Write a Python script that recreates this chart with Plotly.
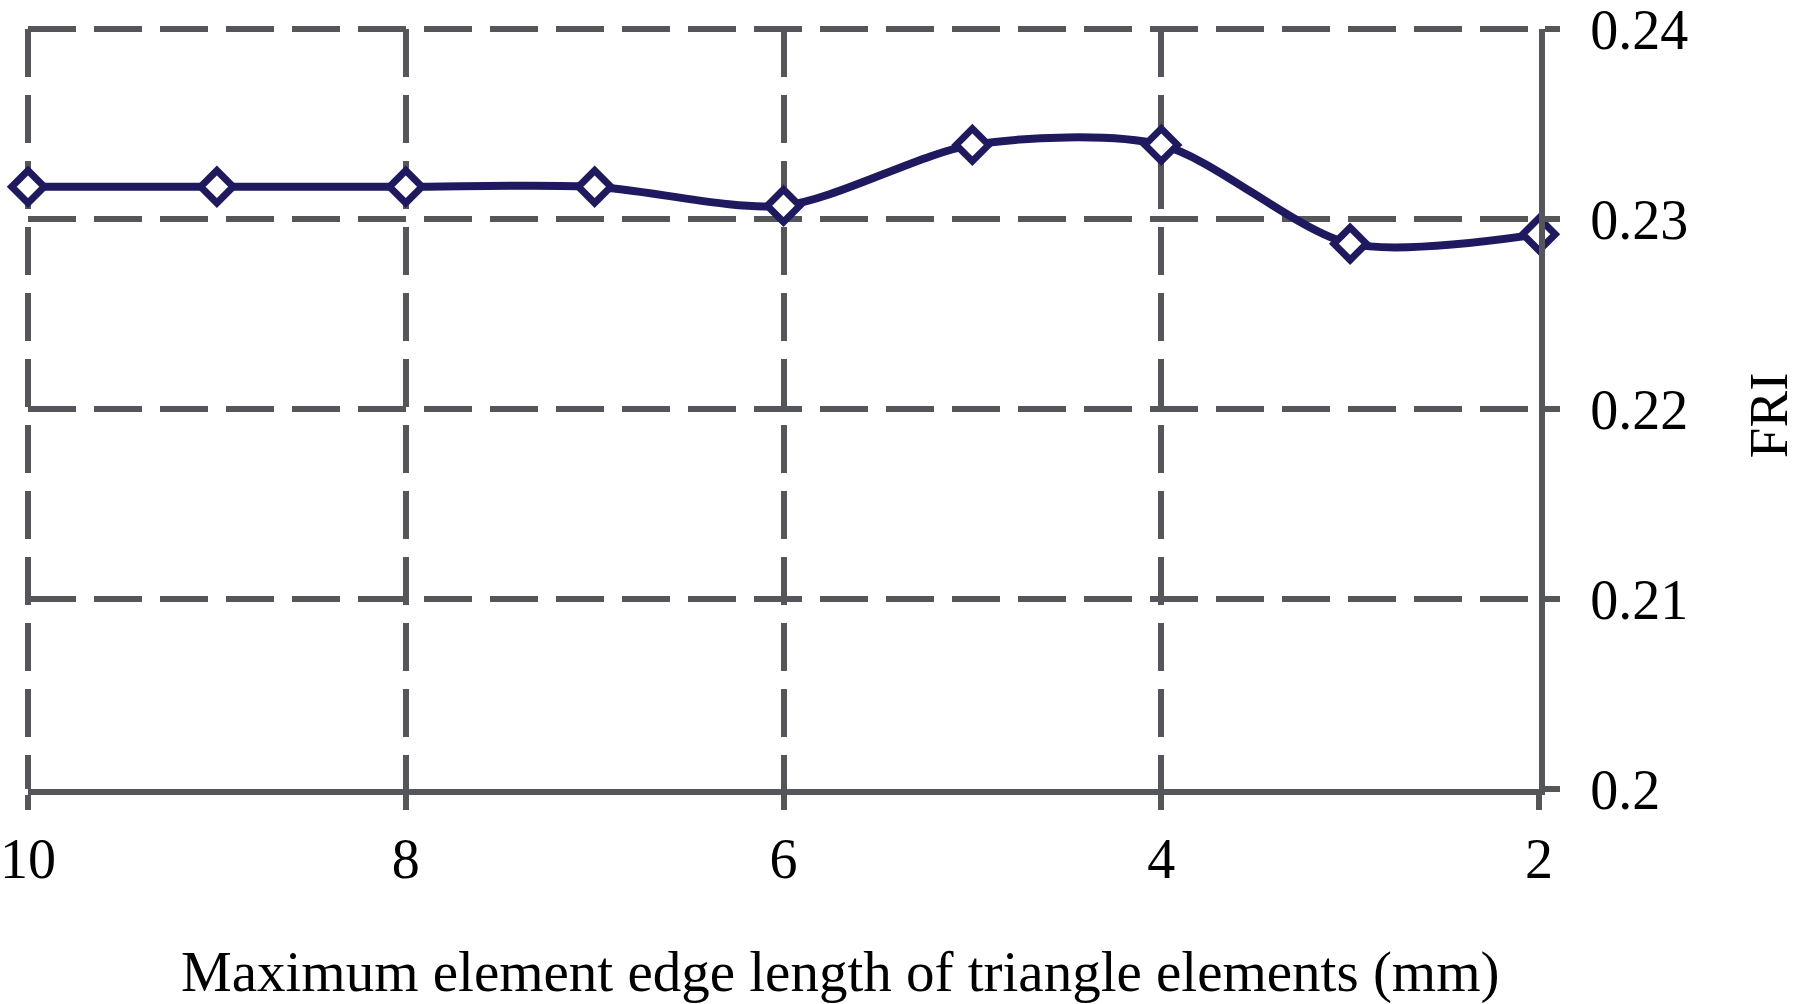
import plotly.graph_objects as go

edge_length = [10, 9, 8, 7, 6, 5, 4, 3, 2]
fri = [0.2317, 0.2317, 0.2317, 0.2317, 0.2307, 0.2339, 0.2339, 0.2287, 0.2292]

x_ticks = [10, 8, 6, 4, 2]
y_ticks = [0.2, 0.21, 0.22, 0.23, 0.24]
y_tick_text = ['0.2', '0.21', '0.22', '0.23', '0.24']

x_title = 'Maximum element edge length of triangle elements (mm)'
y_title = 'FRI'

grid_col = '#55565a'
line_col = '#1f1a60'
dash = '48px,18px'

fig = go.Figure()
fig.add_trace(go.Scatter(
    x=edge_length, y=fri, mode='lines+markers', cliponaxis=False,
    line=dict(color=line_col, width=8, shape='spline', smoothing=0.8),
    marker=dict(symbol='diamond', size=25, color='white',
                line=dict(color=line_col, width=7)),
    showlegend=False,
))

# plotly drops gridlines at the range ends, so draw those two by hand
# (paper side on the edge so the stroke isn't clipped in half)
fig.add_shape(type='line', layer='below', xref='x', yref='paper',
              x0=x_ticks[0], x1=x_ticks[-1], y0=1, y1=1,
              line=dict(color=grid_col, width=6, dash=dash))
fig.add_shape(type='line', layer='below', xref='paper', yref='y',
              x0=0, x1=0, y0=y_ticks[-1], y1=y_ticks[0],
              line=dict(color=grid_col, width=6, dash=dash))

fig.add_annotation(text=x_title, xref='paper', yref='paper', x=0.538, y=-0.2408,
                   xanchor='center', yanchor='middle', showarrow=False,
                   font=dict(size=57))
fig.add_annotation(text=y_title, xref='paper', yref='paper', x=1.1516, y=0.492,
                   xanchor='center', yanchor='middle', showarrow=False,
                   textangle=-90, font=dict(size=55))

fig.update_layout(
    width=1800, height=1004,
    margin=dict(l=28, r=261, t=29, b=215),
    plot_bgcolor='white', paper_bgcolor='white',
    font=dict(family='Liberation Serif', size=56, color='black'),
)

fig.update_xaxes(
    range=[10, 2], tickvals=x_ticks, ticktext=[str(v) for v in x_ticks],
    showgrid=True, gridcolor=grid_col, gridwidth=6, griddash=dash,
    showline=True, linecolor=grid_col, linewidth=6,
    ticks='outside', ticklen=15, tickwidth=6, tickcolor=grid_col,
    ticklabelstandoff=1, ticklabeloverflow='allow',
    zeroline=False, automargin=False,
)
fig.update_yaxes(
    side='right', range=[0.2, 0.24], tickvals=y_ticks, ticktext=y_tick_text,
    showgrid=True, gridcolor=grid_col, gridwidth=6, griddash=dash,
    showline=True, linecolor=grid_col, linewidth=6,
    ticks='outside', ticklen=15, tickwidth=6, tickcolor=grid_col,
    ticklabelstandoff=19, ticklabeloverflow='allow',
    zeroline=False, automargin=False,
)

# drop the browser's default 8px body margin so the figure fills the window
fig.write_html('out.html', config={'displayModeBar': False},
               post_script="document.body.style.margin='0';")
